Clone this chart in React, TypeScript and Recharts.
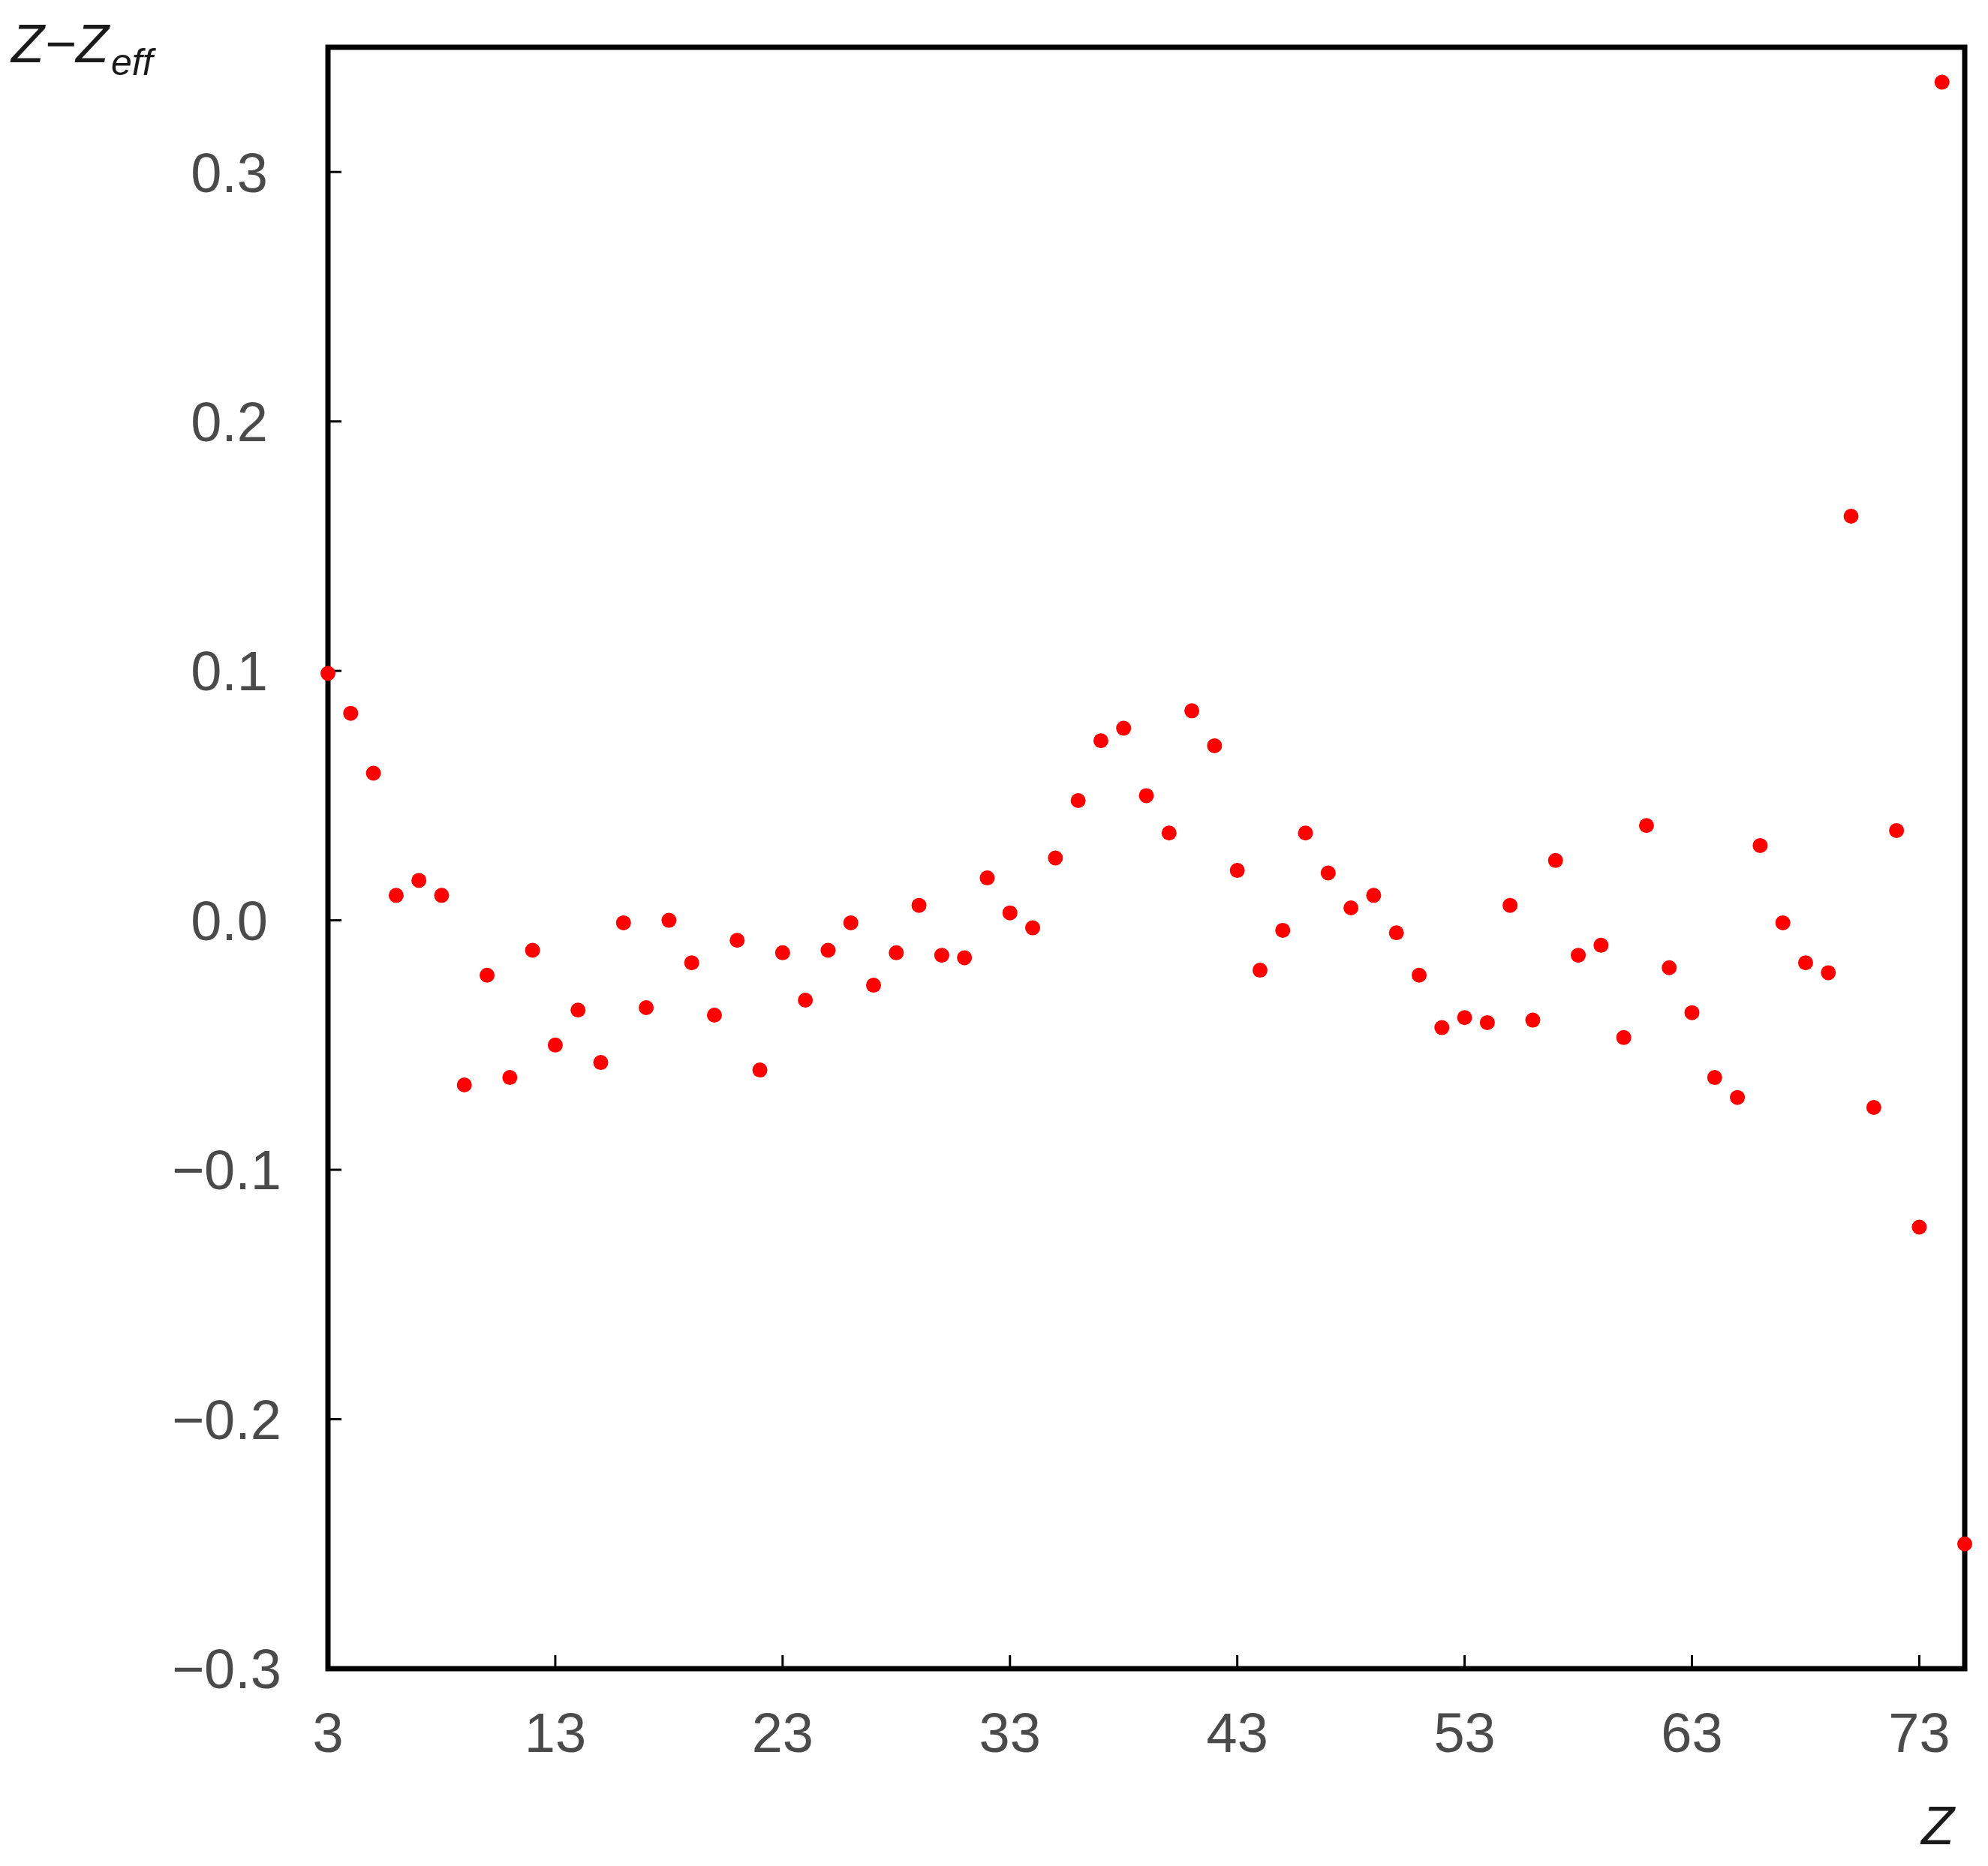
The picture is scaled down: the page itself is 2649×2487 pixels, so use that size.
import React from "react";
import {
  ScatterChart,
  Scatter,
  XAxis,
  YAxis,
  ReferenceArea,
  Label,
} from "recharts";

// atomic number Z
const zValues = [
  3, 4, 5, 6, 7, 8, 9, 10, 11, 12, 13, 14, 15, 16, 17, 18, 19, 20, 21, 22, 23,
  24, 25, 26, 27, 28, 29, 30, 31, 32, 33, 34, 35, 36, 37, 38, 39, 40, 41, 42,
  43, 44, 45, 46, 47, 48, 49, 50, 51, 52, 53, 54, 55, 56, 57, 58, 59, 60, 61,
  62, 63, 64, 65, 66, 67, 68, 69, 70, 71, 72, 73, 74, 75,
];

// Z - Zeff
const deltaValues = [
  0.099, 0.083, 0.059, 0.01, 0.016, 0.01, -0.066, -0.022, -0.063, -0.012,
  -0.05, -0.036, -0.057, -0.001, -0.035, 0.0, -0.017, -0.038, -0.008, -0.06,
  -0.013, -0.032, -0.012, -0.001, -0.026, -0.013, 0.006, -0.014, -0.015, 0.017,
  0.003, -0.003, 0.025, 0.048, 0.072, 0.077, 0.05, 0.035, 0.084, 0.07,
  0.02, -0.02, -0.004, 0.035, 0.019, 0.005, 0.01, -0.005, -0.022, -0.043,
  -0.039, -0.041, 0.006, -0.04, 0.024, -0.014, -0.01, -0.047, 0.038, -0.019,
  -0.037, -0.063, -0.071, 0.03, -0.001, -0.017, -0.021, 0.162, -0.075, 0.036,
  -0.123, 0.336, -0.25,
];

const xTicks = [3, 13, 23, 33, 43, 53, 63, 73];
const yTicks = [-0.3, -0.2, -0.1, 0, 0.1, 0.2, 0.3];

const data = zValues.map((z, i) => ({ z, d: deltaValues[i] }));

const FONT = "'Liberation Sans', Arial, sans-serif";
const TICK_COLOR = "#4a4a4a";

const fmtY = (v: number) => v.toFixed(1).replace("-", "\u2212");

const Dot = (props: any) => (
  <circle cx={props.cx} cy={props.cy} r={10} fill="#ff0000" />
);

// negative labels sit a little further right in the original
const YTick = (props: any) => {
  const { x, y, payload } = props;
  const v = payload.value;
  return (
    <text
      x={x + (v < 0 ? 18 : 0)}
      y={y}
      dy="0.355em"
      textAnchor="end"
      fontSize={74}
      fontFamily={FONT}
      fill={TICK_COLOR}
    >
      {fmtY(v)}
    </text>
  );
};

export default function App() {
  return (
    <div style={{ width: 2633, height: 2479 }}>
      <ScatterChart
        width={2633}
        height={2479}
        margin={{ top: 55, right: 23, left: 0, bottom: 0 }}
      >
        <ReferenceArea
          x1={3}
          x2={75}
          y1={-0.3}
          y2={0.35}
          fill="none"
          fillOpacity={0}
          stroke="#000"
          strokeWidth={7}
          ifOverflow="visible"
        />
        <XAxis
          type="number"
          dataKey="z"
          domain={[3, 75]}
          ticks={xTicks}
          interval={0}
          height={263}
          axisLine={false}
          tickSize={-18}
          tickMargin={76}
          tickLine={{ stroke: "#000", strokeWidth: 3 }}
          tick={{ fill: TICK_COLOR, fontSize: 74, fontFamily: FONT }}
        >
          <Label
            content={(p: any) => {
              const vb = p.viewBox;
              return (
                <text
                  x={vb.x + vb.width - 36}
                  y={vb.y + 234}
                  textAnchor="middle"
                  fontSize={72}
                  fontStyle="italic"
                  fontFamily={FONT}
                  fill="#1a1a1a"
                >
                  Z
                </text>
              );
            }}
          />
        </XAxis>
        <YAxis
          type="number"
          dataKey="d"
          domain={[-0.3, 0.35]}
          ticks={yTicks}
          interval={0}
          width={429}
          axisLine={false}
          tickSize={-18}
          tickMargin={98}
          tickLine={{ stroke: "#000", strokeWidth: 3 }}
          tick={<YTick />}
        >
          <Label
            content={(p: any) => {
              const vb = p.viewBox;
              return (
                <text
                  x={7}
                  y={vb.y + 20}
                  fontSize={72}
                  fontStyle="italic"
                  fontFamily={FONT}
                  fill="#1a1a1a"
                >
                  Z{"\u2212"}Z
                  <tspan fontSize={50} dx={3} dy={17}>
                    eff
                  </tspan>
                </text>
              );
            }}
          />
        </YAxis>
        <Scatter data={data} shape={Dot} isAnimationActive={false} />
      </ScatterChart>
    </div>
  );
}
